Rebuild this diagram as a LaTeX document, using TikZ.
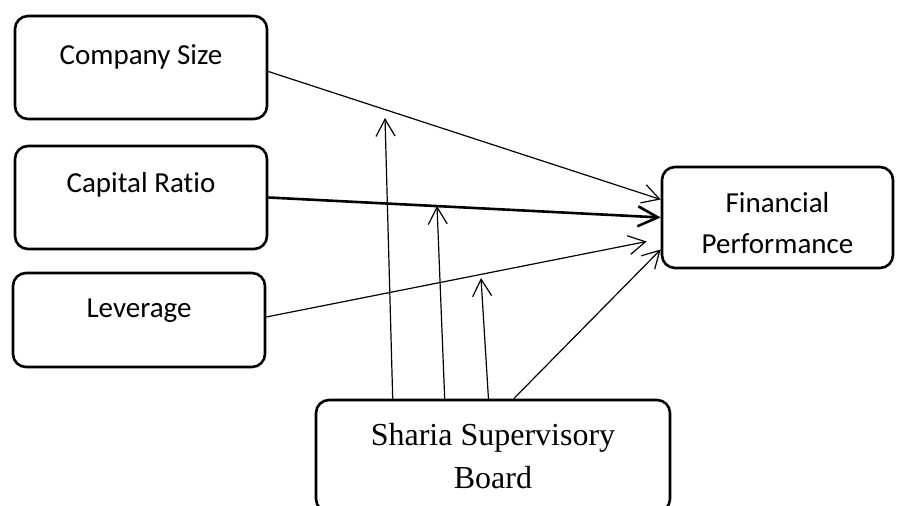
\documentclass[tikz,border=0pt]{standalone}
\usepackage{fontspec}
\setmainfont{Carlito}[Ligatures=NoCommon]
\newfontfamily\serifbox{Liberation Serif}
\usetikzlibrary{arrows.meta}
\pgfdeclarelayer{edgelayer}
\pgfdeclarelayer{nodelayer}
\pgfsetlayers{edgelayer,nodelayer,main}
\tikzstyle{factor}=[draw=black, fill=white, line width=1.3pt, rounded corners=6.5pt, minimum width=126pt, inner ysep=0pt, font=\fontsize{14.5}{20.5}\selectfont]
\tikzstyle{outcome}=[draw=black, fill=white, line width=1.3pt, rounded corners=6.5pt, minimum width=115.5pt, minimum height=50.5pt, align=center, font=\fontsize{14.5}{20.5}\selectfont]
\tikzstyle{moderator}=[draw=black, fill=white, line width=1.3pt, rounded corners=6.5pt, minimum width=177pt, minimum height=56pt, align=center, font=\serifbox\fontsize{16}{21.5}\selectfont]
\tikzstyle{effect}=[-{Straight Barb[length=8.5pt,width=9.5pt]}, draw=black, line width=0.6pt]
\tikzstyle{main effect}=[-{Straight Barb[length=10pt,width=10pt]}, draw=black, line width=1.3pt]

\begin{document}
\begin{tikzpicture}[x=0.5pt, y=-0.5pt]
	\useasboundingbox (0, 0) rectangle (904, 506);
	\begin{pgfonlayer}{nodelayer}
		\node [style=factor, text height=24.5pt, text depth=27pt] (0) at (141, 67.5) {Company Size};
		\node [style=factor, text height=23.5pt, text depth=28pt] (1) at (141, 197.5) {Capital Ratio};
		\node [style=factor, text height=22.5pt, text depth=24.5pt] (2) at (139, 320) {Leverage};
		\node [style=outcome, text height=36.4pt, text depth=0pt] (3) at (777.5, 217.5) {Financial\\Performance};
		\node [style=moderator] (4) at (493, 456) {Sharia Supervisory\\Board};
	\end{pgfonlayer}
	\begin{pgfonlayer}{edgelayer}
		\coordinate (5) at (385, 118);
		\coordinate (6) at (437, 206);
		\coordinate (7) at (481, 278);
		\draw [style=effect] ([yshift=-2pt]0.east) to ([yshift=9pt]3.west);
		\draw [style=main effect] (1.east) to (3.west);
		\draw [style=effect] ([yshift=1.5pt]2.east) to ([xshift=-7pt, yshift=-12pt]3.west);
		\draw [style=effect] ([xshift=99.5pt]4.north west) to ([yshift=-16pt]3.west);
		\draw [style=effect] ([xshift=39pt]4.north west) to (5);
		\draw [style=effect] ([xshift=65pt]4.north west) to (6);
		\draw [style=effect] ([xshift=87pt, yshift=-2pt]4.north west) to (7);
	\end{pgfonlayer}
\end{tikzpicture}
\end{document}
